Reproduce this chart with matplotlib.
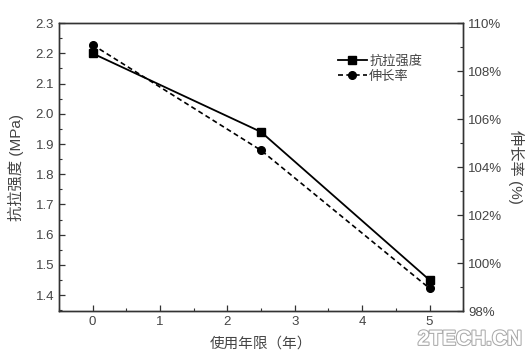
import matplotlib.pyplot as plt
import matplotlib.patheffects as pe
from matplotlib.ticker import MultipleLocator, FuncFormatter

plt.rcParams['font.family'] = ['Liberation Sans', 'Noto Sans CJK SC', 'DejaVu Sans']

years = [0, 2.5, 5]
strength = [2.20, 1.94, 1.45]
elongation = [109.1, 104.7, 98.95]

fig = plt.figure(figsize=(5.3, 3.56), dpi=100)
ax = fig.add_axes([0.111, 0.126, 0.763, 0.809])
ax2 = ax.twinx()

l1, = ax.plot(years, strength, '-', color='black', lw=1.3, marker='s', ms=5.5, label='抗拉强度')
l2, = ax2.plot(years, elongation, '--', color='black', lw=1.2, marker='o', ms=5.5,
               dashes=(3, 2), label='伸长率')

ax.set_xlim(-0.5, 5.5)
ax.set_ylim(1.347, 2.3)
ax2.set_ylim(98, 110)

ax.xaxis.set_major_locator(MultipleLocator(1))
ax.xaxis.set_minor_locator(MultipleLocator(0.5))
ax.yaxis.set_major_locator(MultipleLocator(0.1))
ax.yaxis.set_minor_locator(MultipleLocator(0.05))
ax.yaxis.set_major_formatter(FuncFormatter(lambda v, p: f'{v:.1f}'))
ax2.yaxis.set_major_locator(MultipleLocator(2))
ax2.yaxis.set_minor_locator(MultipleLocator(1))
ax2.yaxis.set_major_formatter(FuncFormatter(lambda v, p: f'{v:.0f}%'))

tc = '#444444'
for a in (ax, ax2):
    a.tick_params(which='both', direction='in', colors='#333333', labelcolor=tc, labelsize=9.5)
    a.tick_params(which='major', length=4, width=0.9)
    a.tick_params(which='minor', length=2, width=0.8)
    for s in a.spines.values():
        s.set_color('#333333')
        s.set_linewidth(1.0)
ax.tick_params(axis='y', which='both', right=False)
ax.tick_params(axis='x', which='both', top=False)

ax.set_xlabel('使用年限（年）', fontsize=10.5, color=tc, labelpad=6)
ax.set_ylabel('抗拉强度 (MPa)', fontsize=11, color=tc, labelpad=8)
ax2.set_ylabel('伸长率 (%)', fontsize=11, color=tc, rotation=270, labelpad=16)

leg = ax.legend([l1, l2], ['抗拉强度', '伸长率'], loc='upper left', bbox_to_anchor=(0.66, 0.93),
                frameon=False, fontsize=9.5, handlelength=2.2, handletextpad=0.2, labelspacing=0.2)
for t in leg.get_texts():
    t.set_color(tc)

fig.text(0.985, 0.02, '2TECH.CN', ha='right', va='bottom', fontsize=15, fontweight='bold',
         color='white', path_effects=[pe.withStroke(linewidth=1.5, foreground='#aaaaaa')])

fig.savefig('out.png', dpi=100)
